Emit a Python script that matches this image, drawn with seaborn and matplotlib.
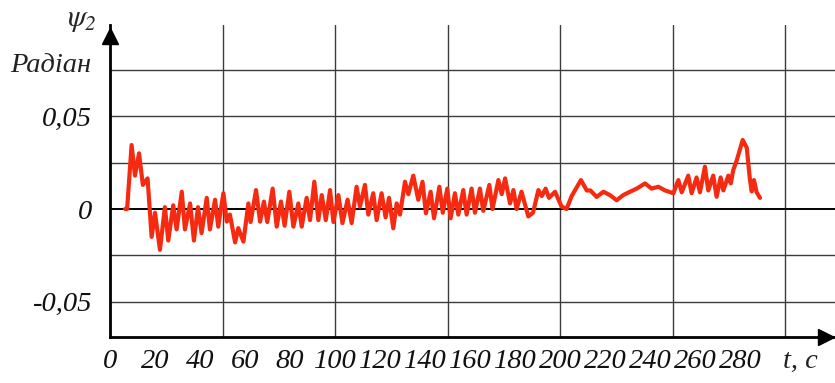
import numpy as np
import pandas as pd
import matplotlib
matplotlib.use("Agg")
import matplotlib.pyplot as plt
import seaborn as sns

# ---- data ----
t_sec = [6.7, 7.6, 9.6, 11.1, 12.9, 14.6, 16.7, 18.5, 20.0, 22.2, 24.4, 25.9, 28.1, 29.6,
         31.9, 33.3, 35.6, 37.3, 39.1, 40.7, 43.0, 44.4, 46.7, 48.1, 50.4, 51.9, 53.3,
         55.6, 57.0, 59.3, 61.5, 62.5, 64.9, 66.7, 68.4, 69.9, 72.3, 74.1, 76.0, 77.6,
         79.7, 81.5, 83.7, 85.2, 87.4, 88.9, 90.8, 92.6, 94.1, 95.9, 97.8, 99.3, 101.5,
         103.3, 105.6, 107.4, 109.6, 111.1, 113.3, 114.8, 117.0, 118.5, 120.7, 122.5,
         124.0, 125.9, 127.4, 128.9, 131.1, 132.6, 134.8, 137.0, 138.9, 140.4, 142.5,
         144.0, 146.4, 147.9, 149.9, 151.4, 153.3, 154.8, 157.0, 158.5, 160.7, 162.2,
         164.4, 165.9, 168.6, 170.0, 172.6, 174.1, 175.6, 177.8, 179.3, 180.7, 182.9,
         185.9, 188.0, 190.4, 191.9, 193.6, 195.1, 197.8, 200.7, 202.9, 205.2, 209.3,
         211.9, 213.5, 216.3, 219.3, 222.2, 225.2, 228.1, 231.1, 234.1, 237.8, 240.7,
         243.7, 246.7, 250.4, 252.6, 254.1, 257.0, 258.5, 260.7, 262.2, 264.4, 265.9,
         268.1, 269.6, 271.4, 272.6, 274.8, 275.9, 277.0, 278.5, 281.2, 283.0, 284.4,
         285.2, 286.2, 287.4, 288.9]
psi2 = [0.0, 0.0, 0.0345, 0.018, 0.030, 0.013, 0.0165, -0.015, -0.002, -0.022, 0.001,
        -0.017, 0.002, -0.011, 0.0093, -0.011, 0.003, -0.017, 0.001, -0.013, 0.006,
        -0.011, 0.005, -0.0095, 0.0085, -0.0068, -0.003, -0.018, -0.0103, -0.0176,
        0.003, -0.007, 0.0102, -0.0068, 0.004, -0.007, 0.011, -0.0095, 0.004, -0.009,
        0.0093, -0.0095, 0.003, -0.0095, 0.006, -0.006, 0.0147, -0.006, 0.0075, -0.006,
        0.0102, -0.007, 0.0075, -0.0076, 0.005, -0.0076, 0.012, 0.0013, 0.013, -0.003,
        0.0085, -0.006, 0.0085, -0.0045, 0.006, -0.0104, 0.003, -0.003, 0.0147, 0.008,
        0.018, 0.005, 0.0147, -0.0023, 0.0093, -0.005, 0.012, -0.002, 0.011, -0.005,
        0.0085, -0.003, 0.0102, -0.003, 0.011, -0.002, 0.011, -0.001, 0.013, 0.0,
        0.0156, 0.008, 0.0165, 0.003, 0.0102, 0.0, 0.0093, -0.004, -0.002, 0.0102,
        0.007, 0.011, 0.006, 0.0093, 0.0013, 0.0, 0.007, 0.0156, 0.010, 0.010, 0.0065,
        0.0093, 0.0075, 0.0047, 0.0075, 0.0093, 0.011, 0.0138, 0.011, 0.012, 0.010,
        0.0085, 0.0156, 0.009, 0.018, 0.0085, 0.017, 0.009, 0.0228, 0.010, 0.018,
        0.0066, 0.017, 0.010, 0.018, 0.0138, 0.021, 0.026, 0.0372, 0.033, 0.016,
        0.0095, 0.0156, 0.009, 0.006]

x_ticks = [0, 20, 40, 60, 80, 100, 120, 140, 160, 180, 200, 220, 240, 260, 280]
x_tick_labels = [str(v) for v in x_ticks]
x_grid = [50, 100, 150, 200, 250, 300]
y_ticks = [-0.05, 0.0, 0.05]
y_tick_labels = ["-0,05", "0", "0,05"]
y_grid = [-0.05, -0.025, 0.025, 0.05, 0.075]

df = pd.DataFrame({"t": t_sec, "psi": psi2})

# ---- style ----
sns.set_style("white")
plt.rcParams["font.family"] = ["Liberation Serif", "DejaVu Serif"]
plt.rcParams["font.style"] = "italic"
plt.rcParams["mathtext.fontset"] = "stix"

W, H = 835, 383
fig = plt.figure(figsize=(W / 100, H / 100), dpi=100)
ax_left, ax_right, ax_top, ax_bot = 110, 835, 25, 337
ax = fig.add_axes([ax_left / W, 1 - ax_bot / H, (ax_right - ax_left) / W, (ax_bot - ax_top) / H])

xmin, xmax = 0, (ax_right - ax_left) / 2.25
ymin, ymax = -0.069, 0.0992
ax.set_xlim(xmin, xmax)
ax.set_ylim(ymin, ymax)

# grid
for gx in x_grid:
    ax.axvline(gx, color="#3c3c3c", lw=1.0, zorder=1)
for gy in y_grid:
    ax.axhline(gy, color="#3c3c3c", lw=1.0, zorder=1)
ax.axhline(0, color="black", lw=1.4, zorder=1)

sns.lineplot(data=df, x="t", y="psi", ax=ax, color="#f52a10", lw=3.0, zorder=3)

ax.set_xlabel("")
ax.set_ylabel("")
ax.set_xticks(x_ticks, x_tick_labels)
ax.set_yticks(y_ticks, y_tick_labels)
ax.tick_params(axis="x", direction="out", length=7, width=1.2, pad=2,
               labelsize=20.5, colors="black")
ax.tick_params(axis="y", direction="out", length=7, width=1.2, pad=6,
               labelsize=20.5, colors="black")
for lab in ax.get_xticklabels() + ax.get_yticklabels():
    lab.set_fontstyle("italic")
    lab.set_color("#111111")

for s in ["top", "right"]:
    ax.spines[s].set_visible(False)
for s in ["left", "bottom"]:
    ax.spines[s].set_color("black")
    ax.spines[s].set_linewidth(2.0)
    ax.spines[s].set_zorder(4)

# arrow heads
ax.plot([0.988], [0], marker=">", color="black", markersize=11,
        transform=ax.transAxes, clip_on=False, zorder=5)
ax.plot([0], [0.965], marker="^", color="black", markersize=11,
        transform=ax.transAxes, clip_on=False, zorder=5)

# labels
fig.text(67 / W, 1 - 19 / H, r"$\psi_{\mathit{2}}$", fontsize=22, ha="left", va="center")
fig.text(10 / W, 1 - 65 / H, "Радіан", fontsize=20.5, ha="left", va="center",
         style="italic", color="#222222")
fig.text(783 / W, 1 - 368 / H, "t, c", fontsize=20.5, ha="left", va="baseline",
         style="italic", color="#222222")

fig.savefig("out.png", dpi=100)
